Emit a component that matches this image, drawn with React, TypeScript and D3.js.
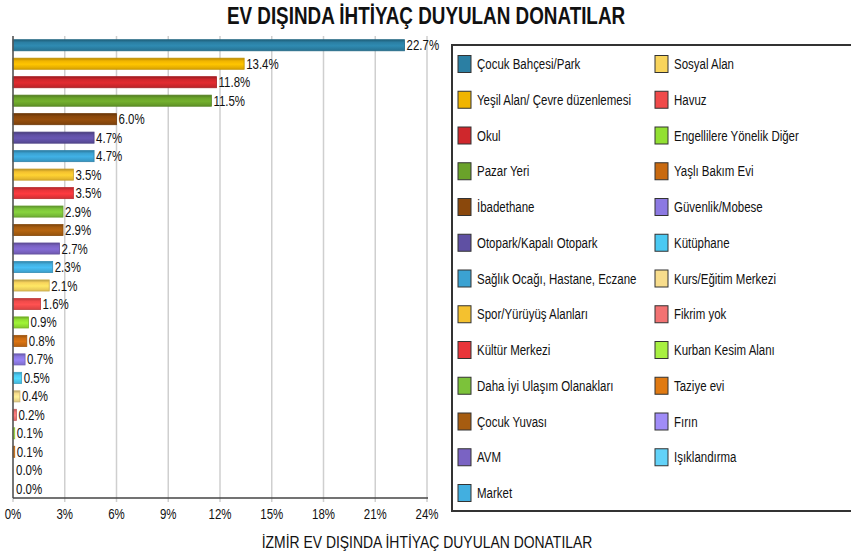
import React from 'react';
import * as d3 from 'd3';

// Veriler
const categories = [
  "Çocuk Bahçesi/Park", "Yeşil Alan/ Çevre düzenlemesi", "Okul", "Pazar Yeri", "İbadethane",
  "Otopark/Kapalı Otopark", "Sağlık Ocağı, Hastane, Eczane", "Spor/Yürüyüş Alanları", "Kültür Merkezi",
  "Daha İyi Ulaşım Olanakları", "Çocuk Yuvası", "AVM", "Market", "Sosyal Alan", "Havuz",
  "Engellilere Yönelik Diğer", "Yaşlı Bakım Evi", "Güvenlik/Mobese", "Kütüphane", "Kurs/Eğitim Merkezi",
  "Fikrim yok", "Kurban Kesim Alanı", "Taziye evi", "Fırın", "Işıklandırma",
];
const values = [22.7, 13.4, 11.8, 11.5, 6.0, 4.7, 4.7, 3.5, 3.5, 2.9, 2.9, 2.7, 2.3, 2.1, 1.6, 0.9, 0.8, 0.7, 0.5, 0.4, 0.2, 0.1, 0.1, 0.0, 0.0];
const colors = [
  "#2b7fa3", "#f0b400", "#cf272c", "#6aa22a", "#8a480c",
  "#5f50a3", "#3ba2d2", "#f4c12f", "#e8353a", "#7cc23a",
  "#a65c10", "#7a63c3", "#42afe0", "#f8d45c", "#f04a4a",
  "#92e032", "#c96a10", "#8c79e2", "#4ac9f2", "#f8dd8c",
  "#f27272", "#a8f042", "#e07a12", "#a08cf8", "#62d2f8",
];
const xTicks = [0, 3, 6, 9, 12, 15, 18, 21, 24];

const FONT = "'Liberation Sans', Arial, sans-serif";

// dar yazı (Arial Narrow benzeri) için yatay sıkıştırma
const NText = ({ x, y, size, anchor = 'start', bold = false, children }: any) => (
  <g transform={`translate(${x},${y}) scale(0.82,1)`}>
    <text x={0} y={0} dy="0.36em" textAnchor={anchor} fontSize={size} fontWeight={bold ? 'bold' : 'normal'} fill="#111">
      {children}
    </text>
  </g>
);

const App = () => {
  const width = 851;
  const height = 556;
  const plot = { left: 13, right: 427, top: 36, bottom: 498 };

  const x = d3.scaleLinear().domain([0, 24]).range([plot.left, plot.right]);
  const y = d3.scaleBand<string>().domain(categories).range([plot.top, plot.bottom]).paddingInner(0.4).paddingOuter(0.2);

  const legendRows = 13;
  const legendY = d3.scaleLinear().domain([0, legendRows - 1]).range([64, 493]);

  return (
    <svg width={width} height={height} style={{ position: 'absolute', left: 0, top: 0, background: '#fff' }} fontFamily={FONT}>
      <defs>
        {colors.map((c, i) => {
          const base = d3.rgb(c);
          return (
            <linearGradient key={i} id={`g${i}`} x1="0" y1="0" x2="0" y2="1">
              <stop offset="0%" stopColor={base.darker(0.8).formatHex()} />
              <stop offset="25%" stopColor={base.formatHex()} />
              <stop offset="55%" stopColor={base.brighter(0.25).formatHex()} />
              <stop offset="100%" stopColor={base.darker(0.3).formatHex()} />
            </linearGradient>
          );
        })}
      </defs>

      <NText x={426} y={16} size={23} anchor="middle" bold>EV DIŞINDA İHTİYAÇ DUYULAN DONATILAR</NText>

      {/* ızgara */}
      {xTicks.map((t) => (
        <line key={t} x1={x(t)} x2={x(t)} y1={plot.top} y2={plot.bottom + 4} stroke="#cfcfcf" strokeWidth={1.5} />
      ))}

      {/* çubuklar */}
      {categories.map((c, i) => {
        const w = x(values[i]) - x(0);
        const yy = y(c)!;
        return (
          <g key={c}>
            {w > 0 && (
              <rect x={x(0)} y={yy} width={w} height={y.bandwidth()} fill={`url(#g${i})`}
                stroke={d3.rgb(colors[i]).darker(0.6).formatHex()} strokeWidth={0.8} />
            )}
            <NText x={x(values[i]) + (w > 0 ? 2 : 3)} y={yy + y.bandwidth() / 2} size={14}>
              {values[i].toFixed(1)}%
            </NText>
          </g>
        );
      })}

      {/* eksenler */}
      <line x1={plot.left} x2={plot.left} y1={plot.top} y2={plot.bottom} stroke="#555" strokeWidth={1.5} />
      <line x1={plot.left} x2={plot.right + 1} y1={plot.bottom} y2={plot.bottom} stroke="#444" strokeWidth={1.5} />
      {xTicks.map((t) => (
        <NText key={t} x={x(t)} y={514} size={14} anchor="middle">{t}%</NText>
      ))}
      <NText x={427} y={542} size={17} anchor="middle">İZMİR EV DIŞINDA İHTİYAÇ DUYULAN DONATILAR</NText>

      {/* lejant */}
      <rect x={452} y={45} width={420} height={466} fill="#fff" stroke="#333" strokeWidth={2} />
      {categories.map((c, i) => {
        const col = i < legendRows ? 0 : 1;
        const row = col === 0 ? i : i - legendRows;
        const sx = col === 0 ? 458 : 655;
        const cy = legendY(row);
        return (
          <g key={`l${c}`}>
            <rect x={sx} y={cy - 8.5} width={13} height={17} fill={colors[i]} stroke="#333" strokeWidth={1} />
            <NText x={sx + 19} y={cy} size={14}>{c}</NText>
          </g>
        );
      })}
    </svg>
  );
};

export default App;
